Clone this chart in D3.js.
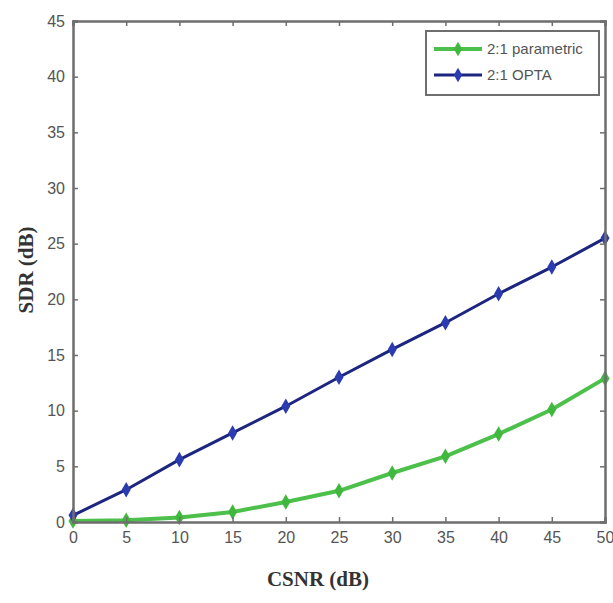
<!DOCTYPE html>
<html>
<head>
<meta charset="utf-8">
<script src="https://cdn.jsdelivr.net/npm/d3@7"></script>
<style>
  body { margin: 0; background: #fff; }
  svg { display: block; }
</style>
</head>
<body>
<div id="chart"></div>
<script>
// values
const csnr = [0, 5, 10, 15, 20, 25, 30, 35, 40, 45, 50];
const parametric = [0.1, 0.15, 0.4, 0.9, 1.8, 2.8, 4.4, 5.9, 7.9, 10.1, 12.9];
const opta = [0.6, 2.9, 5.6, 8.0, 10.4, 13.0, 15.5, 17.9, 20.5, 22.9, 25.5];
const seriesNames = ["2:1 parametric", "2:1 OPTA"];
const xTicks = [0, 5, 10, 15, 20, 25, 30, 35, 40, 45, 50];
const yTicks = [0, 5, 10, 15, 20, 25, 30, 35, 40, 45];

const W = 613, H = 603;
const M = { left: 73, right: 8, top: 21, bottom: 81 };

const svg = d3.select("#chart").append("svg")
  .attr("width", W).attr("height", H);

const x = d3.scaleLinear().domain([0, 50]).range([M.left, W - M.right]);
const y = d3.scaleLinear().domain([0, 45]).range([H - M.bottom, M.top]);

const series = [
  { name: seriesNames[0], values: parametric, line: "#4cc04a", mark: "#3fb83d", width: 4 },
  { name: seriesNames[1], values: opta, line: "#1c2580", mark: "#2b3bb0", width: 3 }
];

// lines
const line = d3.line().x((d, i) => x(csnr[i])).y(d => y(d));
series.forEach(s => {
  svg.append("path")
    .datum(s.values)
    .attr("d", line)
    .attr("fill", "none")
    .attr("stroke", s.line)
    .attr("stroke-width", s.width)
    .attr("stroke-linejoin", "round");
  svg.selectAll(null)
    .data(s.values)
    .join("path")
    .attr("d", d3.symbol(d3.symbolDiamond, 70))
    .attr("transform", (d, i) => `translate(${x(csnr[i])},${y(d)})`)
    .attr("fill", s.mark);
});

// axes (ticks inward, mirrored on top/right)
const axisColor = "#6e6e6e";
const gx = svg.append("g")
  .attr("transform", `translate(0,${H - M.bottom})`)
  .call(d3.axisBottom(x).tickValues(xTicks).tickSize(-5).tickPadding(10));
const gy = svg.append("g")
  .attr("transform", `translate(${M.left},0)`)
  .call(d3.axisLeft(y).tickValues(yTicks).tickSize(-5).tickPadding(8));
const gt = svg.append("g")
  .attr("transform", `translate(0,${M.top})`)
  .call(d3.axisTop(x).tickValues(xTicks).tickSize(-5).tickFormat(""));
const gr = svg.append("g")
  .attr("transform", `translate(${W - M.right},0)`)
  .call(d3.axisRight(y).tickValues(yTicks).tickSize(-5).tickFormat(""));

[gx, gy, gt, gr].forEach(g => {
  g.select(".domain").attr("stroke", axisColor).attr("stroke-width", 2.5);
  g.selectAll(".tick line").attr("stroke", axisColor).attr("stroke-width", 1.5);
  g.selectAll(".tick text")
    .attr("fill", "#555")
    .style("font-family", "'Liberation Sans Narrow', 'Liberation Sans', Arial, sans-serif")
    .style("font-size", "16px");
});

// axis titles
svg.append("text")
  .attr("x", 318).attr("y", 586)
  .attr("text-anchor", "middle")
  .style("font-family", "'Liberation Serif', 'Times New Roman', serif")
  .style("font-size", "21px")
  .style("font-weight", "bold")
  .attr("fill", "#333")
  .text("CSNR (dB)");

svg.append("text")
  .attr("transform", "translate(33,270) rotate(-90)")
  .attr("text-anchor", "middle")
  .style("font-family", "'Liberation Serif', 'Times New Roman', serif")
  .style("font-size", "21px")
  .style("font-weight", "bold")
  .attr("fill", "#333")
  .text("SDR (dB)");

// legend
const lg = svg.append("g").attr("transform", "translate(426,31)");
lg.append("rect")
  .attr("width", 173).attr("height", 64)
  .attr("fill", "#fff")
  .attr("stroke", axisColor)
  .attr("stroke-width", 2);
series.forEach((s, i) => {
  const ly = 18 + i * 26;
  lg.append("line")
    .attr("x1", 8).attr("x2", 56)
    .attr("y1", ly).attr("y2", ly)
    .attr("stroke", s.line).attr("stroke-width", s.width);
  lg.append("path")
    .attr("d", d3.symbol(d3.symbolDiamond, 60))
    .attr("transform", `translate(32,${ly})`)
    .attr("fill", s.mark);
  lg.append("text")
    .attr("x", 61).attr("y", ly + 5)
    .style("font-family", "'Liberation Sans Narrow', 'Liberation Sans', Arial, sans-serif")
    .style("font-size", "15px")
    .attr("fill", "#555")
    .text(s.name);
});
</script>
</body>
</html>
